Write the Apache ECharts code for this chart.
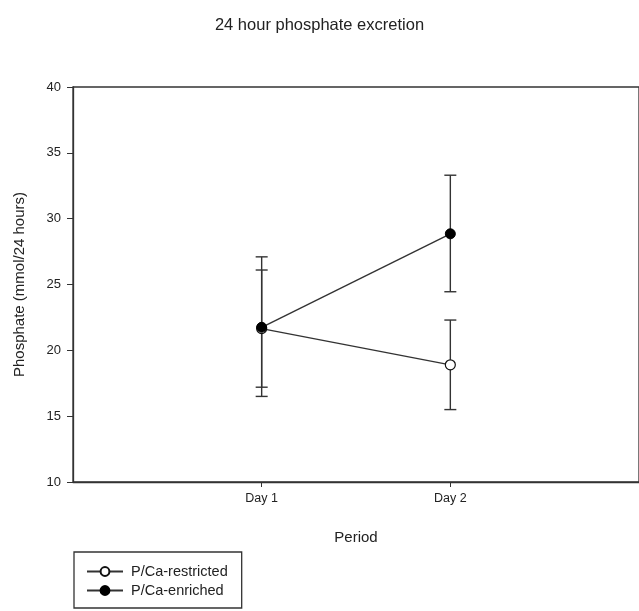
<!DOCTYPE html>
<html>
<head>
<meta charset="utf-8">
<script src="https://cdn.jsdelivr.net/npm/echarts@6/dist/echarts.min.js"></script>
<style>html,body{margin:0;padding:0;background:#fff;}#c{width:639px;height:611px;}</style>
</head>
<body>
<div id="c"></div>
<script>
var periods = ['Day 1', 'Day 2'];
var periodPos = [1, 2];
var restrictedMean = [21.65, 18.9];
var restrictedLow = [17.2, 15.5];
var restrictedHigh = [26.1, 22.3];
var enrichedMean = [21.75, 28.85];
var enrichedLow = [16.5, 24.45];
var enrichedHigh = [27.1, 33.3];
var yTicks = [10, 15, 20, 25, 30, 35, 40];

var font = 'Liberation Sans, Arial, sans-serif';
var ink = '#222';
var lineCol = '#333';

function pts(means) { return periodPos.map(function (p, i) { return [p, means[i]]; }); }
function errData(lo, hi) { return periodPos.map(function (p, i) { return [p, lo[i], hi[i]]; }); }

function errRender(params, api) {
  var x = api.value(0);
  var lo = api.coord([x, api.value(1)]);
  var hi = api.coord([x, api.value(2)]);
  var w = 6;
  var st = { stroke: lineCol, lineWidth: 1.4 };
  return {
    type: 'group',
    children: [
      { type: 'line', shape: { x1: lo[0], y1: lo[1], x2: hi[0], y2: hi[1] }, style: st },
      { type: 'line', shape: { x1: lo[0] - w, y1: lo[1], x2: lo[0] + w, y2: lo[1] }, style: st },
      { type: 'line', shape: { x1: hi[0] - w, y1: hi[1], x2: hi[0] + w, y2: hi[1] }, style: st }
    ]
  };
}

var chart = echarts.init(document.getElementById('c'), null, { renderer: 'canvas' });
chart.setOption({
  backgroundColor: '#fff',
  animation: false,
  textStyle: { fontFamily: font },
  title: {
    text: '24 hour phosphate excretion',
    left: 'center',
    top: 12,
    textStyle: { fontFamily: font, fontSize: 16.5, fontWeight: 'normal', color: ink }
  },
  grid: {
    left: 73, top: 87, width: 570, height: 395,
    show: true, borderColor: lineCol, borderWidth: 1.3, backgroundColor: 'transparent'
  },
  xAxis: {
    type: 'value', min: 0, max: 3,
    name: 'Period', nameLocation: 'middle', nameGap: 48,
    nameTextStyle: { fontFamily: font, fontSize: 15, color: ink },
    axisLine: { show: true, lineStyle: { color: lineCol, width: 1.3 } },
    axisTick: { show: true, customValues: periodPos, length: 5, lineStyle: { color: lineCol } },
    axisLabel: {
      customValues: periodPos,
      formatter: function (v) { var i = periodPos.indexOf(v); return i >= 0 ? periods[i] : ''; },
      fontFamily: font, fontSize: 12.5, color: ink, margin: 10
    },
    splitLine: { show: false }
  },
  yAxis: {
    type: 'value', min: 10, max: 40, interval: 5,
    name: 'Phosphate (mmol/24 hours)', nameLocation: 'middle', nameGap: 46,
    nameTextStyle: { fontFamily: font, fontSize: 15, color: ink },
    axisLine: { show: true, lineStyle: { color: lineCol, width: 1.3 } },
    axisTick: { show: true, length: 6, lineStyle: { color: lineCol } },
    axisLabel: {
      formatter: function (v) { return yTicks.indexOf(v) >= 0 ? String(v) : ''; },
      fontFamily: font, fontSize: 13, color: ink, margin: 12
    },
    splitLine: { show: false }
  },
  legend: {
    orient: 'vertical', left: 74, top: 552,
    padding: [12, 14, 10, 12], itemGap: 4,
    itemWidth: 36, itemHeight: 11,
    borderColor: lineCol, borderWidth: 1.3,
    textStyle: { fontFamily: font, fontSize: 14.5, color: ink, padding: [0, 0, 0, 3] },
    data: ['P/Ca-restricted', 'P/Ca-enriched']
  },
  series: [
    {
      name: 'P/Ca-restricted err', type: 'custom', renderItem: errRender,
      data: errData(restrictedLow, restrictedHigh), z: 1, silent: true
    },
    {
      name: 'P/Ca-enriched err', type: 'custom', renderItem: errRender,
      data: errData(enrichedLow, enrichedHigh), z: 1, silent: true
    },
    {
      name: 'P/Ca-restricted', type: 'line', data: pts(restrictedMean), z: 3,
      symbol: 'circle', symbolSize: 10, showSymbol: true,
      lineStyle: { color: lineCol, width: 1.4 },
      itemStyle: { color: '#fff', borderColor: '#111', borderWidth: 1.2 }
    },
    {
      name: 'P/Ca-enriched', type: 'line', data: pts(enrichedMean), z: 4,
      symbol: 'circle', symbolSize: 10, showSymbol: true,
      lineStyle: { color: lineCol, width: 1.4 },
      itemStyle: { color: '#000', borderColor: '#000', borderWidth: 1 }
    }
  ]
});
</script>
</body>
</html>
